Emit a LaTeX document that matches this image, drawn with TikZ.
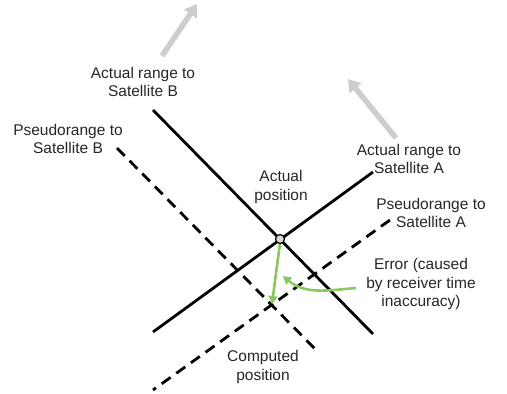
\documentclass[tikz,border=0pt]{standalone}
\usepackage{fontspec}
\setmainfont{Liberation Sans}
\usetikzlibrary{arrows.meta}

\definecolor{errgreen}{RGB}{140,200,95}
\definecolor{satgray}{RGB}{205,205,205}

\tikzset{
  rangeline/.style={black, line width=2.8pt},
  pseudoline/.style={black, line width=2.8pt, dash pattern=on 11pt off 7pt},
  label/.style={align=center, font=\fontsize{15.5}{18.5}\selectfont, text=black!85, inner sep=0pt},
  satarrow/.style={satgray, line width=5.5pt, -{Triangle[length=12pt,width=15pt]}},
  errarrow/.style={errgreen, line width=2.6pt, -{Triangle[length=8pt,width=9pt]}}
}

\begin{document}
\begin{tikzpicture}[x=1pt,y=-1pt]
\useasboundingbox (0,0) rectangle (507,394);
% end points of the range lines
\coordinate (bTop) at (153,110);
\coordinate (bBot) at (373,334);
\coordinate (aTop) at (373,172);
\coordinate (aBot) at (153,332);
\coordinate (pbTop) at (117,148);
\coordinate (pbBot) at (318,352);
\coordinate (paTop) at (390,220);
\coordinate (paBot) at (153,390);
\coordinate (computed) at (272,304);
\coordinate (errTip) at (283,276);
% satellite directions
\coordinate (satBfrom) at (162,56);
\coordinate (satBto) at (197,4);
\coordinate (satAfrom) at (396,138);
\coordinate (satAto) at (348,79);
\draw[satarrow] (satBfrom) -- (satBto);
\draw[satarrow] (satAfrom) -- (satAto);
% ranges
\draw[pseudoline] (pbTop) -- (pbBot);
\draw[pseudoline] (paTop) -- (paBot);
\draw[rangeline] (bTop) -- (bBot);
\draw[rangeline] (aTop) -- (aBot);
% positions
\draw[errarrow] (280,243) -- (computed);
\node[circle, draw=black, fill=black!15, line width=1.2pt, minimum size=9pt, inner sep=0pt] (actual) at (280,239) {};
% labels
\node[label] (lblRangeB) at (143,82) {Actual range to\\Satellite B};
\node[label] (lblPseudoB) at (68,139) {Pseudorange to\\Satellite B};
\node[label] (lblRangeA) at (409,159) {Actual range to\\Satellite A};
\node[label] (lblActual) at (281,187) {Actual\\position};
\node[label] (lblPseudoA) at (431,213) {Pseudorange to\\Satellite A};
\node[label] (lblErr) at (421,284) {Error (caused\\by receiver time\\inaccuracy)};
\node[label] (lblComputed) at (263,367) {Computed\\position};
\draw[errarrow] ([xshift=-10pt,yshift=-4pt]lblErr.west) to[out=185,in=-40] (errTip);
\end{tikzpicture}
\end{document}
